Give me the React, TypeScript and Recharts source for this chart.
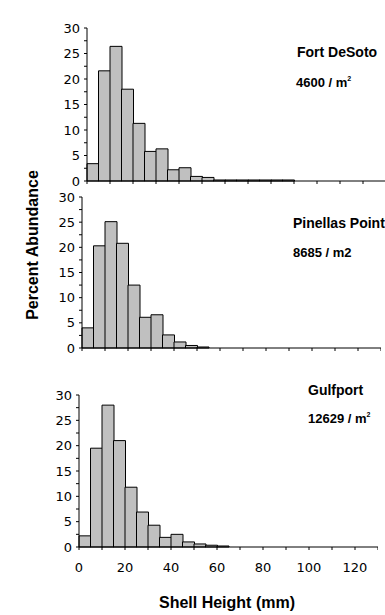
import React from "react";
import { Bar, BarChart, XAxis, YAxis } from "recharts";

// 5 mm size classes (bin start, mm)
const binStarts = [
  0, 5, 10, 15, 20, 25, 30, 35, 40, 45, 50, 55, 60, 65, 70, 75, 80, 85, 90, 95, 100, 105, 110, 115, 120, 125,
];

// percent abundance per size class
const fortDeSoto = [3.4, 21.6, 26.4, 18.0, 11.3, 5.8, 6.3, 2.2, 2.6, 0.9, 0.7, 0.2, 0.2, 0.2, 0.2, 0.2, 0.2, 0.2];
const pinellasPoint = [4.0, 20.3, 25.1, 20.8, 12.5, 6.1, 6.6, 2.6, 1.2, 0.5, 0.2];
const gulfport = [2.2, 19.5, 28.0, 21.0, 11.8, 6.9, 4.3, 1.9, 2.5, 1.0, 0.6, 0.35, 0.2];

const xTicks = [0, 10, 20, 30, 40, 50, 60, 70, 80, 90, 100, 110, 120, 130];
const xLabelled = [0, 20, 40, 60, 80, 100, 120];
const yTicks = [0, 2.5, 5, 7.5, 10, 12.5, 15, 17.5, 20, 22.5, 25, 27.5, 30];
const yLabelled = [0, 5, 10, 15, 20, 25, 30];

const LABEL_FONT = "'Liberation Sans', Arial, sans-serif";
const TICK_FONT = "'DejaVu Sans', sans-serif";
const PLOT_WIDTH = 299;

interface PanelProps {
  values: number[];
  top: number;
  axisX: number;
  marginTop: number;
  plotHeight: number;
  xAxisHeight: number;
  showXLabels: boolean;
}

function Panel({ values, top, axisX, marginTop, plotHeight, xAxisHeight, showXLabels }: PanelProps) {
  const data = binStarts.map((b, i) => ({ bin: b, mm: b, pct: i < values.length ? values[i] : null }));
  const tickStyle = { fill: "#000", fontSize: 13, fontFamily: TICK_FONT };

  return (
    <div style={{ position: "absolute", left: 0, top }}>
      <BarChart
        width={axisX + PLOT_WIDTH}
        height={marginTop + plotHeight + xAxisHeight}
        data={data}
        margin={{ top: marginTop, right: 0, bottom: 0, left: 0 }}
        barCategoryGap={0}
        barGap={0}
      >
        <XAxis
          xAxisId="mm"
          dataKey="mm"
          type="number"
          domain={[0, 130]}
          ticks={xTicks}
          interval={0}
          allowDataOverflow
          height={xAxisHeight}
          tickSize={3}
          tickMargin={13}
          stroke="#000"
          tick={tickStyle}
          tickFormatter={(v: number) => (showXLabels && xLabelled.includes(v) ? String(v) : "")}
        />
        <XAxis xAxisId="bins" dataKey="bin" type="category" hide height={0} />
        <YAxis
          type="number"
          domain={[0, 30]}
          ticks={yTicks}
          interval={0}
          width={axisX}
          tickSize={3}
          tickMargin={4}
          stroke="#000"
          tick={tickStyle}
          tickFormatter={(v: number) => (yLabelled.includes(v) ? String(v) : "")}
        />
        <Bar
          xAxisId="bins"
          dataKey="pct"
          fill="#c0c0c0"
          stroke="#000"
          strokeWidth={1}
          isAnimationActive={false}
        />
      </BarChart>
    </div>
  );
}

export default function App() {
  return (
    <div
      style={{
        position: "absolute",
        left: 0,
        top: 0,
        width: 385,
        height: 615,
        overflow: "hidden",
        background: "#fff",
      }}
    >
      <Panel values={fortDeSoto} top={0} axisX={87} marginTop={28} plotHeight={153} xAxisHeight={10} showXLabels={false} />
      <Panel values={pinellasPoint} top={190} axisX={82} marginTop={7} plotHeight={151} xAxisHeight={10} showXLabels={false} />
      <Panel values={gulfport} top={385} axisX={79} marginTop={10} plotHeight={152} xAxisHeight={30} showXLabels />

      <svg
        width={385}
        height={615}
        style={{ position: "absolute", left: 0, top: 0, pointerEvents: "none" }}
        fontFamily={LABEL_FONT}
        fontWeight="bold"
        fill="#000"
      >
        <text x={297} y={57} fontSize={14}>Fort DeSoto</text>
        <text x={296} y={87} fontSize={13}>
          4600 / m<tspan dy={-6} fontSize={7}>2</tspan>
        </text>

        <text x={293} y={228} fontSize={14}>Pinellas Point</text>
        <text x={293} y={257} fontSize={13}>8685 / m2</text>

        <text x={308} y={395} fontSize={14}>Gulfport</text>
        <text x={308} y={423} fontSize={13}>
          12629 / m<tspan dy={-6} fontSize={7}>2</tspan>
        </text>

        <text x={227} y={608} fontSize={16} textAnchor="middle">Shell Height (mm)</text>
        <text
          x={38}
          y={245}
          fontSize={16}
          textAnchor="middle"
          transform="rotate(-90 38 245)"
        >
          Percent Abundance
        </text>
      </svg>
    </div>
  );
}
